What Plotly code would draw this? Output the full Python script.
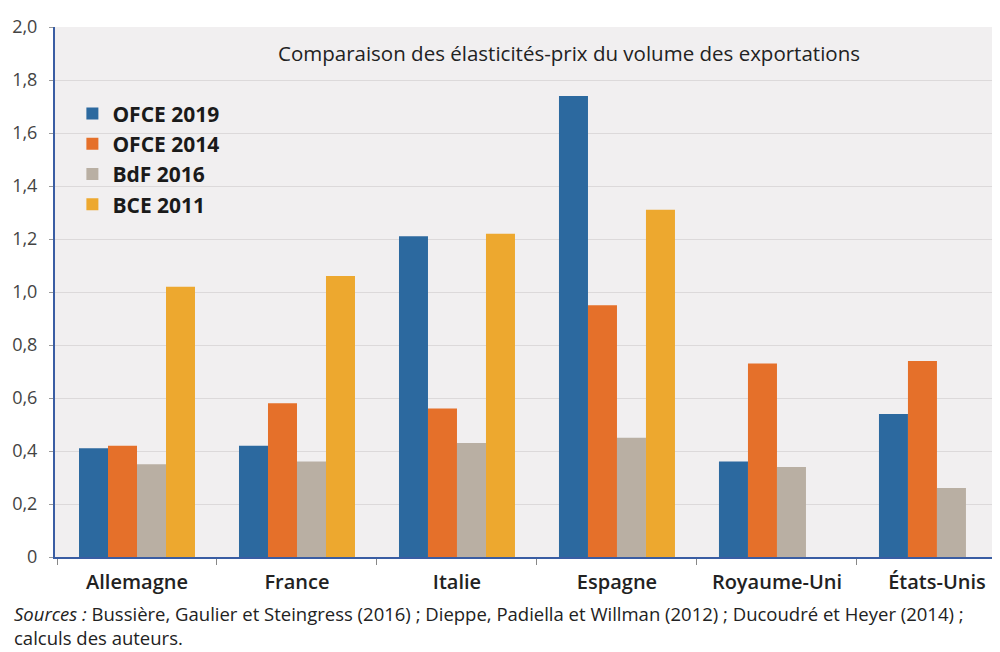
import plotly.graph_objects as go

categories = ["Allemagne", "France", "Italie", "Espagne", "Royaume-Uni", "États-Unis"]
ofce_2019 = [0.41, 0.42, 1.21, 1.74, 0.36, 0.54]
ofce_2014 = [0.42, 0.58, 0.56, 0.95, 0.73, 0.74]
bdf_2016 = [0.35, 0.36, 0.43, 0.45, 0.34, 0.26]
bce_2011 = [1.02, 1.06, 1.22, 1.31, None, None]

series_names = ["OFCE 2019", "OFCE 2014", "BdF 2016", "BCE 2011"]
series_values = [ofce_2019, ofce_2014, bdf_2016, bce_2011]
colors = ["#2C699F", "#E5702A", "#B9AFA3", "#EDA82F"]

y_tickvals = [0, 0.2, 0.4, 0.6, 0.8, 1.0, 1.2, 1.4, 1.6, 1.8, 2.0]
y_ticktext = ["0", "0,2", "0,4", "0,6", "0,8", "1,0", "1,2", "1,4", "1,6", "1,8", "2,0"]

title_text = "Comparaison des élasticités-prix du volume des exportations"
source_text = ("<i>Sources :</i> Bussière, Gaulier et Steingress (2016) ; Dieppe, Padiella et Willman (2012) ; "
               "Ducoudré et Heyer (2014) ;<br>calculs des auteurs.")

fig = go.Figure()
for i, (name, vals, col) in enumerate(zip(series_names, series_values, colors)):
    fig.add_trace(go.Bar(x=categories, y=vals, name=name, marker_color=col,
                         marker_line_width=0, legendgroup=f"g{i}"))

font_family = "Open Sans, Noto Sans, sans-serif"

fig.update_layout(
    width=992, height=644,
    margin=dict(l=47, r=0, t=19, b=95, autoexpand=False),
    paper_bgcolor="white",
    plot_bgcolor="#F1EFF0",
    barmode="group",
    bargap=0.275,
    bargroupgap=0,
    font=dict(family=font_family, color="#333333"),
    showlegend=True,
    legend=dict(x=0.0184, y=0.875, xanchor="left", yanchor="top",
                bgcolor="rgba(0,0,0,0)", tracegroupgap=0,
                font=dict(size=21, color="#1a1a1a", family=font_family, weight="bold"),
                itemwidth=30),
    xaxis=dict(
        type="category",
        range=[-0.5125, 5.394],
        showline=True, linecolor="#3A5DA3", linewidth=2,
        ticks="outside", tickson="boundaries", ticklen=6, tickcolor="#888888",
        ticklabelstandoff=6,
        tickfont=dict(size=20, color="#222222", family=font_family, weight=600),
        showgrid=False,
    ),
    yaxis=dict(
        range=[0, 2.0],
        tickvals=y_tickvals, ticktext=y_ticktext,
        showline=True, linecolor="#3A5DA3", linewidth=2,
        ticks="outside", ticklen=4, tickcolor="#999999",
        ticklabelstandoff=8,
        tickfont=dict(size=18, color="#444444", family=font_family),
        showgrid=True, gridcolor="#DCD9DA", gridwidth=1,
        zeroline=False,
    ),
    annotations=[
        dict(text=title_text, xref="paper", yref="paper", x=0.544, y=0.951,
             xanchor="center", yanchor="middle", showarrow=False,
             font=dict(size=20.5, color="#222222", family=font_family)),
        dict(text=source_text, xref="paper", yref="paper", x=-0.0455, y=-0.1792,
             xanchor="left", yanchor="bottom", showarrow=False, align="left",
             font=dict(size=18.5, color="#222222", family=font_family)),
    ],
)

fig.write_html("out.html")
